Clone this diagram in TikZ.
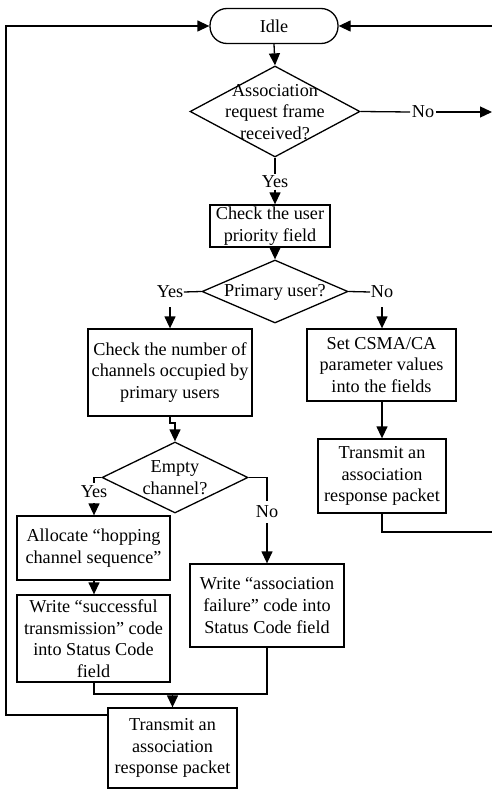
\documentclass[tikz,border=0pt]{standalone}
\usepackage{fontspec}
\setmainfont{Liberation Serif}
\usetikzlibrary{shapes.geometric,arrows.meta}
\begin{document}
\begin{tikzpicture}[x=1pt,y=-1pt,line width=1.3pt,
  every node/.style={font=\fontsize{18.2}{21.6}\selectfont,inner sep=0pt,align=center},
  procbox/.style={draw,rectangle},
  termbox/.style={draw,rectangle,rounded corners=17pt},
  decide/.style={draw,diamond},
  lbl/.style={fill=white,inner sep=1pt},
  arr/.style={-{Triangle[length=12pt,width=11pt]}}]
\useasboundingbox (0,0) rectangle (492,789);

% nodes
\node[termbox,minimum width=128pt,minimum height=35pt] (idle) at (274,26) {Idle};
\node[decide,minimum width=170pt,minimum height=91pt] (d1) at (275,111.5) {};
\node (d1t) at (275,112) {Association\\request frame\\received?};
\node[procbox,minimum width=120pt,minimum height=42pt] (b1) at (270,226) {Check the user\\priority field};
\node[decide,minimum width=146pt,minimum height=63pt] (d2) at (275,291.5) {};
\node (d2t) at (275,292) {Primary user?};
\node[procbox,minimum width=164pt,minimum height=87pt] (b2) at (170,372.5) {Check the number of\\channels occupied by\\primary users};
\node[procbox,minimum width=149pt,minimum height=72pt] (b3) at (381.5,365) {Set CSMA/CA\\parameter values\\into the fields};
\node[procbox,minimum width=128pt,minimum height=74pt] (b4) at (382,476) {Transmit an\\association\\response packet};
\node[decide,minimum width=146pt,minimum height=71pt] (d3) at (175,477.5) {};
\node (d3t) at (175,477.5) {Empty\\channel?};
\node[procbox,minimum width=153pt,minimum height=64pt] (b5) at (93.5,548) {Allocate “hopping\\channel sequence”};
\node[procbox,minimum width=153pt,minimum height=87pt] (b6) at (93.5,638.5) {Write “successful\\transmission” code\\into Status Code\\field};
\node[procbox,minimum width=154pt,minimum height=83pt] (b7) at (267,605.5) {Write “association\\failure” code into\\Status Code field};
\node[procbox,minimum width=129pt,minimum height=80pt] (b8) at (172.5,748) {Transmit an\\association\\response packet};

% labels
\node[lbl] (no1) at (423,112) {No};
\node[lbl] (yes1) at (275,182) {Yes};
\node (yes2) at (170,292) {Yes};
\node (no2) at (382,292) {No};
\node (yes3) at (94,492) {Yes};
\node (no3) at (267,512) {No};

% free ends
\coordinate (rin) at (492,26);
\coordinate (rout) at (492,112);
\coordinate (rret) at (492,532);
\coordinate (lloop) at (6,715);
\coordinate (ltop) at (6,26);

% connectors
\draw[arr] (idle.south) -- (d1.north);
\draw (d1.east) -- (no1.west);
\draw[arr] (no1.east) -- (rout);
\draw (d1.south) -- (yes1.north);
\draw[arr] (yes1.south) -- (yes1.south |- b1.north);
\draw[arr] (b1.south -| d2.north) -- (d2.north);
\draw (d2.west) -- (yes2.east);
\draw[arr] (170,307) -- (b2.north);
\draw (d2.east) -- (no2.west);
\draw[arr] (382,307) -- (b3.north -| no2);
\draw[arr] (b2.south) -- (170,423) -- (175,423) -- (d3.north);
\draw (d3.west) -- (94,477.5) -- (94,483);
\draw[arr] (94,503) -- (b5.north -| yes3);
\draw (d3.east) -- (267,477.5) -- (267,501);
\draw[arr] (267,523) -- (b7.north);
\draw[arr] (b3.south -| b4.north) -- (b4.north);
\draw (b4.south) -- (382,532) -- (rret);
\draw[arr] (rin) -- (idle.east);
\draw[arr] (b5.south -| yes3) -- (b6.north -| yes3);
\draw (b6.south -| yes3) -- (94,694) -- (267,694) -- (b7.south);
\draw[arr] (172.5,694) -- (b8.north);
\draw[arr] (b8.west |- lloop) -- (lloop) -- (ltop) -- (idle.west);
\end{tikzpicture}
\end{document}
